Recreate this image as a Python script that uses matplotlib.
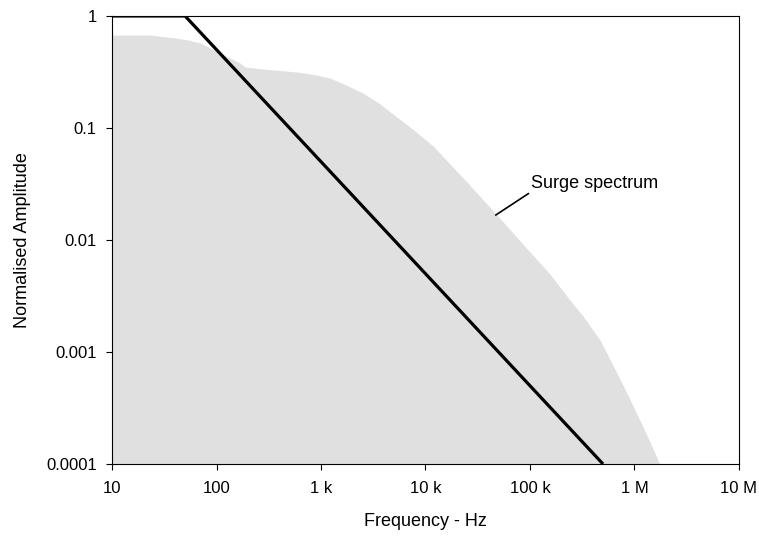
import matplotlib.pyplot as plt
from matplotlib.ticker import FixedLocator, FixedFormatter, NullLocator

plt.rcParams["font.family"] = ["Liberation Sans", "DejaVu Sans"]

# surge spectrum envelope (grey area)
surge_freq = [10, 23, 40, 53, 70, 87, 108, 135, 168, 187, 279, 589, 857,
              1220, 1735, 2520, 3670, 5340, 7935, 11800, 16780, 23900, 48300,
              100000, 155000, 241000, 321000, 468000, 776000, 1210000, 1750000]
surge_amp = [0.676, 0.676, 0.636, 0.611, 0.574, 0.518, 0.467, 0.422, 0.38,
             0.35, 0.336, 0.316, 0.30, 0.279, 0.242, 0.205, 0.164, 0.125,
             0.094, 0.0691, 0.0487, 0.0343, 0.0167, 0.00781, 0.00497,
             0.00291, 0.0021, 0.00128, 0.000507, 0.000214, 0.0001]

# limit line
limit_freq = [10, 50, 500000]
limit_amp = [1, 1, 0.0001]

x_ticks = [10, 100, 1e3, 1e4, 1e5, 1e6, 1e7]
x_labels = ["10", "100", "1 k", "10 k", "100 k", "1 M", "10 M"]
y_ticks = [1e-4, 1e-3, 1e-2, 1e-1, 1]
y_labels = ["0.0001", "0.001", "0.01", "0.1", "1"]

fig = plt.figure(figsize=(7.59, 5.38), dpi=100)
ax = fig.add_axes([0.1476, 0.1375, 0.826, 0.8328])

ax.fill_between(surge_freq, surge_amp, 1e-4, color="#e0e0e0", linewidth=0)
ax.plot(limit_freq, limit_amp, color="black", linewidth=2.3, solid_capstyle="butt")

ax.set_xscale("log")
ax.set_yscale("log")
ax.set_xlim(10, 1e7)
ax.set_ylim(1e-4, 1)

ax.xaxis.set_major_locator(FixedLocator(x_ticks))
ax.xaxis.set_major_formatter(FixedFormatter(x_labels))
ax.xaxis.set_minor_locator(NullLocator())
ax.yaxis.set_major_locator(FixedLocator(y_ticks))
ax.yaxis.set_major_formatter(FixedFormatter(y_labels))
ax.yaxis.set_minor_locator(NullLocator())
ax.tick_params(direction="out", length=4, width=0.8, labelsize=12)
ax.tick_params(axis="x", pad=8.5)
ax.tick_params(axis="y", pad=7)

for s in ax.spines.values():
    s.set_linewidth(0.8)

ax.annotate("Surge spectrum", xy=(47000, 0.0167), xytext=(103000, 0.027),
            fontsize=13, ha="left", va="bottom",
            arrowprops=dict(arrowstyle="-", color="black", linewidth=1.2,
                            shrinkA=0, shrinkB=0, relpos=(0, 0)))

ax.set_xlabel("Frequency - Hz", fontsize=13, labelpad=12)
ax.set_ylabel("Normalised Amplitude", fontsize=13, labelpad=11)

fig.savefig("out.png", dpi=100)
